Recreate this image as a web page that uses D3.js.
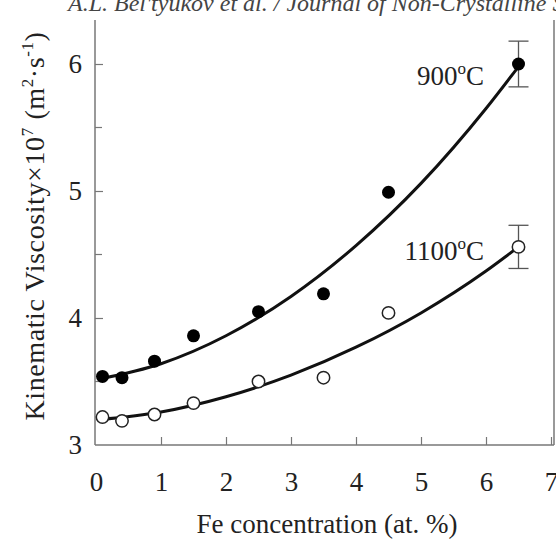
<!DOCTYPE html>
<html><head><meta charset="utf-8">
<script src="https://cdn.jsdelivr.net/npm/d3@7"></script>
<style>body{margin:0;background:#fff}svg{display:block}svg text{font-family:"Liberation Serif","Times New Roman",serif !important}</style>
</head><body>
<script>
// data
const feConc = [0.1, 0.4, 0.9, 1.5, 2.5, 3.5, 4.5, 6.5];
const visc900 = [3.54, 3.53, 3.66, 3.86, 4.05, 4.19, 4.99, 6.0];
const visc1100 = [3.22, 3.19, 3.24, 3.33, 3.50, 3.53, 4.04, 4.56];
const err900 = [null, null, null, null, null, null, null, 0.18];
const err1100 = [null, null, null, null, null, null, null, 0.17];
// fitted curves
const fitX = [0.05, 1, 2, 3, 4, 5, 6, 6.5];
const fit900 = [3.52, 3.64, 3.86, 4.17, 4.57, 5.06, 5.65, 5.98];
const fit1100 = [3.20, 3.26, 3.38, 3.55, 3.77, 4.04, 4.37, 4.56];
const xTicks = [0, 1, 2, 3, 4, 5, 6, 7];
const yTicks = [3, 4, 5, 6];
const yMinor = [3.5, 4.5, 5.5];

(function () {
const W = 556, H = 539;
const svg = d3.select("body").append("svg").attr("width", W).attr("height", H);
const x = d3.scaleLinear().domain([0, 7]).range([96, 551]);
const y = d3.scaleLinear().domain([3, 6]).range([445, 64]);
const axisCol = "#777";

// header
svg.append("text").attr("x", 68).attr("y", 11).attr("font-size", 24).attr("font-style", "italic")
  .attr("fill", "#444").text("A.L. Bel'tyukov et al. / Journal of Non-Crystalline Solids");

// frame
const fL = 95, fR = 554, fT = 20, fB = 445;
svg.append("line").attr("x1", fL).attr("x2", fL).attr("y1", fT).attr("y2", fB).attr("stroke", axisCol).attr("stroke-width", 1.5);
svg.append("line").attr("x1", fR).attr("x2", fR).attr("y1", fT).attr("y2", fB).attr("stroke", axisCol).attr("stroke-width", 1.5);
svg.append("line").attr("x1", fL).attr("x2", fR).attr("y1", fB).attr("y2", fB).attr("stroke", axisCol).attr("stroke-width", 1.5);

// x axis (inward ticks)
const xAxis = d3.axisBottom(x).tickValues(xTicks).tickSize(-8).tickPadding(27).tickFormat(d3.format("d"));
const gx = svg.append("g").attr("transform", `translate(0,${fB})`).call(xAxis)
  .attr("font-size", 27).attr("font-family", "Liberation Serif");
gx.select(".domain").remove();
gx.selectAll(".tick line").attr("stroke", axisCol).attr("stroke-width", 1.2).filter(d => d === 0).remove();
gx.selectAll(".tick text").attr("fill", "#222");

// y axis (inward ticks)
const yAxis = d3.axisLeft(y).tickValues(yTicks).tickSize(-8).tickPadding(13).tickFormat(d3.format("d"));
const gy = svg.append("g").attr("transform", `translate(${fL},0)`).call(yAxis)
  .attr("font-size", 27).attr("font-family", "Liberation Serif");
gy.select(".domain").remove();
gy.selectAll(".tick line").attr("stroke", axisCol).attr("stroke-width", 1.2).filter(d => d === 3).remove();
gy.selectAll(".tick text").attr("fill", "#222");
svg.append("g").selectAll("line").data(yMinor).join("line")
  .attr("x1", fL).attr("x2", fL + 7).attr("y1", d => y(d)).attr("y2", d => y(d))
  .attr("stroke", axisCol).attr("stroke-width", 1.2);

// axis titles
svg.append("text").attr("x", 327).attr("y", 533).attr("text-anchor", "middle").attr("font-size", 27).attr("fill", "#222")
  .text("Fe concentration (at. %)");
const yt = svg.append("text").attr("transform", "translate(44,226) rotate(-90)").attr("text-anchor", "middle")
  .attr("font-size", 28).attr("letter-spacing", 0.6).attr("fill", "#222");
yt.append("tspan").text("Kinematic  Viscosity\u00d710");
yt.append("tspan").attr("dy", -11).attr("font-size", 17).text("7");
yt.append("tspan").attr("dy", 11).text("  (m");
yt.append("tspan").attr("dy", -11).attr("font-size", 17).text("2");
yt.append("tspan").attr("dy", 11).text("\u00b7s");
yt.append("tspan").attr("dy", -11).attr("font-size", 17).text("-1");
yt.append("tspan").attr("dy", 11).text(")");

// fit curves
const line = d3.line().x(d => x(d[0])).y(d => y(d[1])).curve(d3.curveMonotoneX);
svg.append("path").datum(fitX.map((v, i) => [v, fit900[i]])).attr("d", line)
  .attr("fill", "none").attr("stroke", "#111").attr("stroke-width", 3);
svg.append("path").datum(fitX.map((v, i) => [v, fit1100[i]])).attr("d", line)
  .attr("fill", "none").attr("stroke", "#111").attr("stroke-width", 3);

// error bars
function errBars(vals, errs) {
  const d = feConc.map((v, i) => ({x: v, y: vals[i], e: errs[i]})).filter(d => d.e != null);
  const g = svg.append("g").attr("stroke", "#555").attr("stroke-width", 1.3);
  g.selectAll(".v").data(d).join("line").attr("x1", d => x(d.x)).attr("x2", d => x(d.x))
    .attr("y1", d => y(d.y + d.e)).attr("y2", d => y(d.y - d.e));
  g.selectAll(".t").data(d).join("line").attr("x1", d => x(d.x) - 10).attr("x2", d => x(d.x) + 10)
    .attr("y1", d => y(d.y + d.e)).attr("y2", d => y(d.y + d.e));
  g.selectAll(".b").data(d).join("line").attr("x1", d => x(d.x) - 10).attr("x2", d => x(d.x) + 10)
    .attr("y1", d => y(d.y - d.e)).attr("y2", d => y(d.y - d.e));
}
errBars(visc900, err900);
errBars(visc1100, err1100);

// points
svg.append("g").selectAll("circle").data(feConc.map((v, i) => [v, visc900[i]])).join("circle")
  .attr("cx", d => x(d[0])).attr("cy", d => y(d[1])).attr("r", 6.5).attr("fill", "#000");
svg.append("g").selectAll("circle").data(feConc.map((v, i) => [v, visc1100[i]])).join("circle")
  .attr("cx", d => x(d[0])).attr("cy", d => y(d[1])).attr("r", 6.2).attr("fill", "#fff")
  .attr("stroke", "#222").attr("stroke-width", 1.5);

// series labels
function label(xp, yp, t) {
  const tx = svg.append("text").attr("x", xp).attr("y", yp).attr("text-anchor", "end").attr("font-size", 27).attr("fill", "#222");
  tx.append("tspan").text(t);
  tx.append("tspan").attr("dy", -11).attr("font-size", 17).text("o");
  tx.append("tspan").attr("dy", 11).text("C");
}
label(484, 85, "900");
label(484, 260, "1100");
})();
</script>
</body></html>
